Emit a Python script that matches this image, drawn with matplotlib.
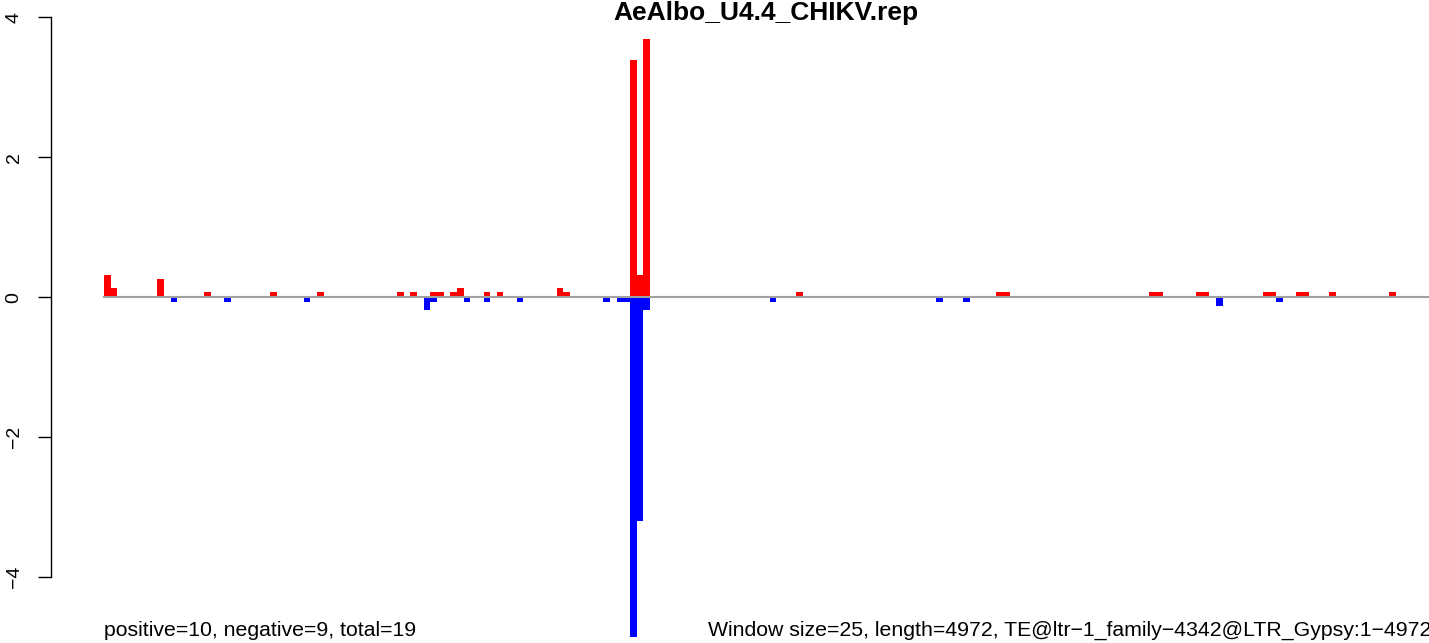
import matplotlib
matplotlib.use("Agg")
import matplotlib.pyplot as plt
import numpy as np

plt.rcParams["font.family"] = ["Liberation Sans", "DejaVu Sans"]

N_WINDOWS = 199
TITLE = "AeAlbo_U4.4_CHIKV.rep"
LEFT_NOTE = "positive=10, negative=9, total=19"
RIGHT_NOTE = "Window size=25, length=4972, TE@ltr\u22121_family\u22124342@LTR_Gypsy:1\u22124972"

# window index -> value
pos_idx = [0, 1, 8, 15, 25, 32, 44, 46, 49, 50, 52, 53, 57, 59, 68, 69,
           79, 80, 81, 104, 134, 135, 157, 158, 164, 165, 174, 175, 179, 180, 184, 193]
pos_val = [0.31, 0.13, 0.26, 0.07, 0.07, 0.07, 0.07, 0.07, 0.07, 0.07, 0.07, 0.125, 0.07, 0.07, 0.125, 0.07,
           3.39, 0.31, 3.69, 0.07, 0.07, 0.07, 0.07, 0.07, 0.07, 0.07, 0.07, 0.07, 0.07, 0.07, 0.07, 0.07]
neg_idx = [10, 18, 30, 48, 49, 54, 57, 62, 75, 77, 78, 79, 80, 81, 100, 125, 129, 167, 176]
neg_val = [-0.07, -0.07, -0.07, -0.19, -0.07, -0.07, -0.07, -0.07, -0.07, -0.07, -0.07, -4.85, -3.2, -0.18,
           -0.07, -0.07, -0.07, -0.13, -0.07]

pos = np.zeros(N_WINDOWS)
pos[pos_idx] = pos_val
neg = np.zeros(N_WINDOWS)
neg[neg_idx] = neg_val

W, H = 1429, 643
fig = plt.figure(figsize=(W / 100, H / 100), dpi=100)
# plot region runs past the right edge, like the clipped original
x0, x1 = 51, 1482
y_top, y_bot = 0, 640
ax = fig.add_axes([x0 / W, (H - y_bot) / H, (x1 - x0) / W, (y_bot - y_top) / H])

x = np.arange(N_WINDOWS)
ax.bar(x, pos, width=1.0, align="edge", color="#ff0000", linewidth=0)
ax.bar(x, neg, width=1.0, align="edge", color="#0000ff", linewidth=0)
ax.plot([0, N_WINDOWS], [0, 0], color="#a0a0a0", lw=1.5, zorder=3)

pad = 0.04 * N_WINDOWS
ax.set_xlim(-pad, N_WINDOWS + pad)
ax.set_ylim(-4.90, 4.245)

for s in ["top", "right", "bottom"]:
    ax.spines[s].set_visible(False)
ax.spines["left"].set_bounds(-4, 4)
ax.spines["left"].set_linewidth(1.0)
ax.set_xticks([])
ax.set_yticks([-4, -2, 0, 2, 4])
ax.set_yticklabels(["\u22124", "\u22122", "0", "2", "4"], rotation=90, va="center")
ax.tick_params(axis="y", length=9.5, width=1.0, pad=11, labelsize=14)

# title pushed just far enough down to stay inside the picture
fig.text(766 / W, 1 - 20 / H, TITLE, ha="center", va="baseline",
         fontsize=19, fontweight="bold")
fig.text(104 / W, 1 - 636 / H, LEFT_NOTE, ha="left", va="baseline", fontsize=15.3)
fig.text(708 / W, 1 - 636 / H, RIGHT_NOTE, ha="left", va="baseline", fontsize=15.3)

fig.savefig("out.png", dpi=100)
